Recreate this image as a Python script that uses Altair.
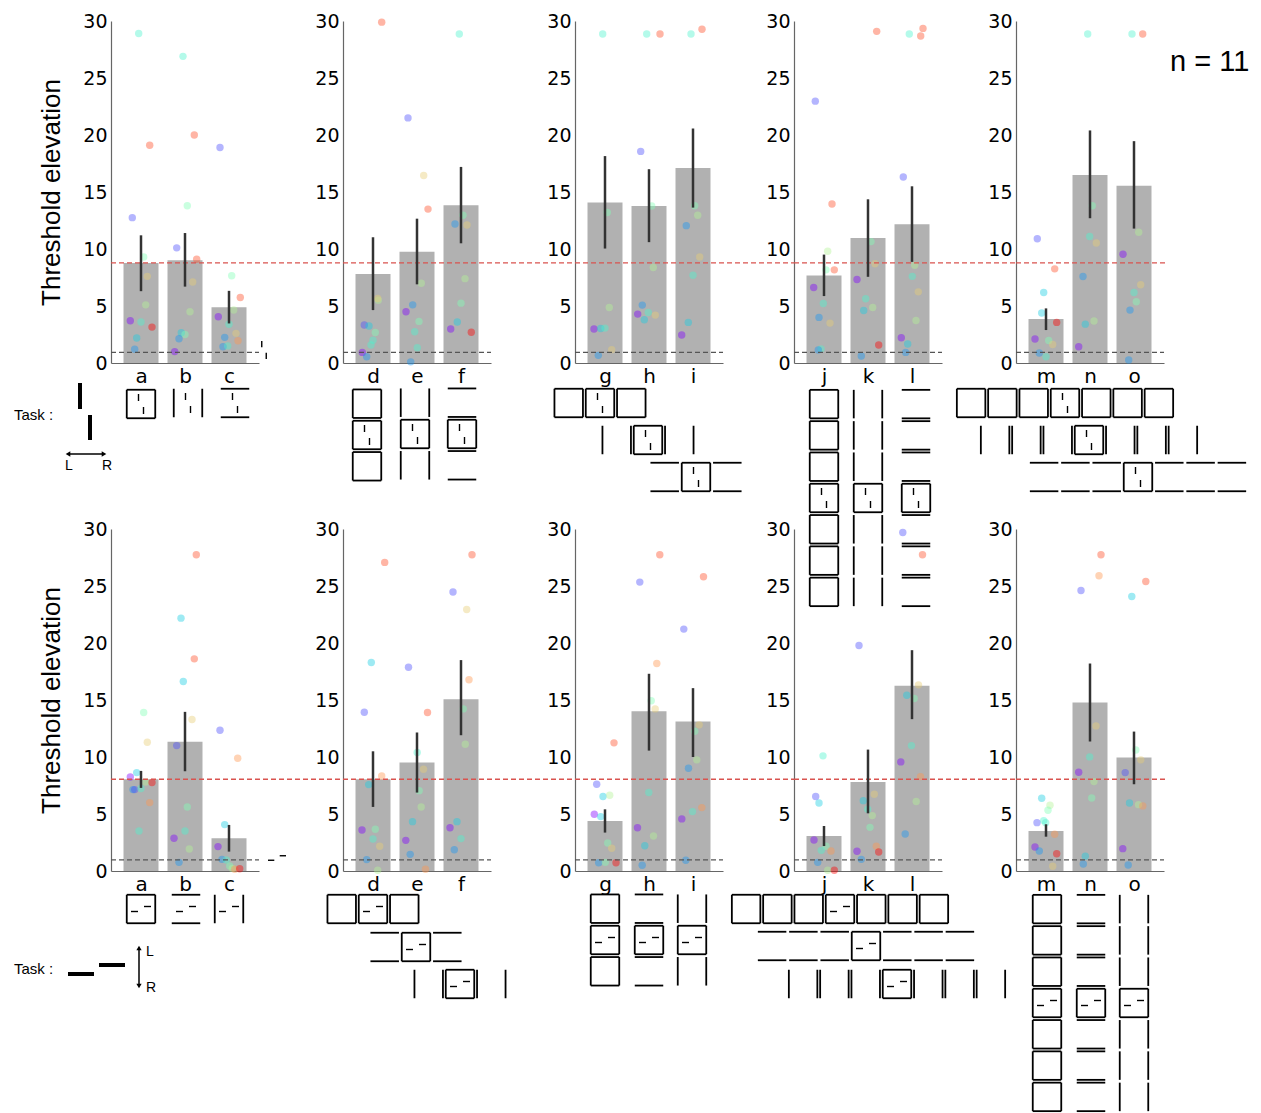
import altair as alt
import pandas as pd

# ---------------- data ----------------
LABELS = list("abcdefghijklmno")
PALETTE = ["#8000ff", "#4c4ffc", "#1996f3", "#19cee3", "#4cf2ce", "#80ffb4",
           "#b3f296", "#e6ce74", "#ff964f", "#ff4f28", "#ff0000"]
CODES = list("PVBCTGYOSRX")

TOP_MEAN = [8.78, 9.02, 4.9, 7.8, 9.75, 13.83, 14.07, 13.77, 17.1, 7.67, 10.97, 12.17, 3.85, 16.5, 15.55]
TOP_LO = [6.3, 6.7, 3.47, 4.64, 6.9, 10.5, 10.04, 10.6, 13.63, 5.87, 7.56, 8.87, 2.89, 12.7, 11.79]
TOP_HI = [11.2, 11.4, 6.33, 11.03, 12.66, 17.2, 18.15, 17.0, 20.57, 9.51, 14.36, 15.5, 4.79, 20.4, 19.46]
TOP_RED = 8.78
TOP_BASE = 0.93

TOP_VALS = {
    "a": [28.9, 19.1, 12.75, 9.3, 7.6, 5.1, 3.7, 3.6, 3.15, 2.2, 1.2],
    "b": [26.9, 20.0, 13.8, 10.1, 9.1, 7.1, 4.5, 2.65, 2.5, 2.13, 1.0],
    "c": [18.9, 7.65, 5.75, 4.65, 4.05, 3.4, 2.6, 2.25, 1.95, 1.43, 1.5],
    "d": [29.9, 5.5, 5.66, 3.33, 3.24, 2.68, 2.0, 1.58, 0.93, 0.55],
    "e": [21.5, 16.45, 13.5, 7.0, 5.1, 4.5, 3.65, 2.74, 1.34, 0.1],
    "f": [28.86, 12.96, 12.2, 12.1, 7.4, 5.25, 3.6, 2.98, 2.7],
    "g": [28.86, 13.2, 4.87, 2.98, 3.03, 3.06, 1.17, 0.67],
    "h": [28.86, 28.86, 18.56, 13.77, 8.37, 5.08, 4.29, 4.43, 4.2, 3.8],
    "i": [28.86, 29.27, 13.8, 12.96, 12.05, 9.3, 7.7, 3.56, 2.45],
    "j": [22.97, 13.95, 9.8, 8.17, 8.17, 6.62, 5.22, 4.0, 3.5, 1.23, 1.14],
    "k": [29.09, 10.65, 8.7, 7.32, 5.63, 4.87, 4.61, 1.58, 0.61],
    "l": [28.86, 28.68, 29.35, 16.31, 8.58, 7.6, 6.24, 3.73, 2.22, 1.66, 0.93],
    "m": [10.9, 8.26, 6.19, 4.38, 3.56, 2.1, 1.98, 1.63, 0.88, 0.55],
    "n": [28.86, 13.8, 11.09, 10.53, 7.59, 3.68, 3.41, 1.43],
    "o": [28.86, 28.86, 11.47, 9.54, 6.86, 6.19, 5.37, 4.64, 0.26],
}
TOP_JIT = {
    "a": [-2.3, 8.7, -8.7, 2.7, 6.3, 4.7, -10.7, 0, 11, -4.3, -6.3],
    "b": [-2, 9.3, 2.3, -8.3, 11.7, 7.7, 5, -3.7, 0, -6, -10.3],
    "c": [-9, 2.7, 11.3, 4.7, -10.7, 0, 7, -4.3, 9, -6, -1.3],
    "d": [8.7, 5.3, 4.7, -8.7, -4, 2.3, 0, -2, -10.7, -6.3],
    "e": [-9, 6.7, 11, 4.3, -4.3, -11, 2, -2.3, 0.3, -6.3],
    "f": [-1.7, 2, -6, 6, 4, 0, -3.7, -10.3, 10.3],
    "g": [-2.3, 2.3, 4.3, -11, -4.3, 0, 6.7, -6.7],
    "h": [-2.3, 11, -8.3, 2.7, 4.3, -6.7, -11.3, -0.7, 6.3, -4.7],
    "i": [-2, 9, 1.7, 4.7, -6.7, 6.7, 0, -4.7, -11.3],
    "j": [-8.7, 8, 3.7, 2, 10.3, -10.3, -0.7, -5, 6, -3, -5.7],
    "k": [8.7, 3, 7, -11, -2.3, 4.7, -4.3, 10.7, -6.7],
    "l": [-2.7, 8.7, 11, -8.7, 2.7, 0.3, 6.3, 4, -10.7, -4.3, -6.3],
    "m": [-8.7, 8.7, -2.3, -4.3, 10.7, -11, 2.7, 6.7, -6.7, 0],
    "n": [-2.3, 2.3, -0.3, 6.3, -7, 4, -4.7, -11.3],
    "o": [-2, 8.7, 4.7, -11, 6.7, 0, 2.3, -4, -5.3],
}
TOP_COL = {
    "a": "TRVGOYPTXCB", "b": "TRGVROYCGBP", "c": "VGRYPTOBSBT",
    "d": "RYOVCGTTPB", "e": "VORYBPGTTB", "f": "TGBOYGCPX",
    "g": "TGYPCTOB", "h": "TRVGYBPTOC", "i": "TRGYBOTCP",
    "j": "VRYGRPTBOTB", "k": "RGOPTYCXB", "l": "TRRVYTOYPCB",
    "m": "VRCCXPGOBT", "n": "TGTOBYCP", "o": "TRYPOTGBB",
}

BOT_MEAN = [8.05, 11.33, 2.87, 8.05, 9.51, 15.07, 4.39, 14.02, 13.11, 3.07, 7.81, 16.24, 3.51, 14.78, 9.95]
BOT_LO = [7.29, 8.75, 1.7, 5.62, 6.88, 11.91, 3.37, 10.56, 10.0, 2.19, 5.06, 13.32, 3.01, 11.36, 7.61]
BOT_HI = [8.78, 13.96, 4.04, 10.5, 12.15, 18.5, 5.41, 17.3, 16.04, 3.95, 10.65, 19.37, 4.1, 18.2, 12.23]
BOT_RED = 8.05
BOT_BASE = 0.97

BOT_VALS = {
    "a": [13.9, 11.3, 8.63, 8.25, 7.8, 7.76, 7.14, 7.14, 7.23, 6.0, 3.51],
    "b": [27.74, 22.18, 18.61, 16.62, 13.29, 11.0, 5.62, 2.87, 3.51, 1.93, 0.76],
    "c": [12.35, 9.89, 4.07, 2.14, 1.02, 0.97, 0.44, 0.23, 0.15, 0.2],
    "d": [27.07, 18.29, 13.93, 8.34, 7.58, 3.6, 3.66, 2.81, 2.17, 1.0, 0.06],
    "e": [17.88, 13.9, 10.39, 8.93, 7.05, 5.62, 4.33, 2.69, 1.46, 0.15],
    "f": [27.74, 24.47, 22.94, 16.77, 14.22, 11.12, 4.33, 3.8, 2.84, 1.87],
    "g": [11.24, 7.61, 6.53, 6.64, 4.98, 4.77, 2.46, 1.99, 0.73, 0.76, 0.73],
    "h": [27.74, 25.34, 18.2, 14.93, 14.22, 6.88, 3.8, 3.07, 2.22, 0.5],
    "i": [25.81, 21.22, 12.82, 12.26, 9.75, 9.01, 5.56, 5.21, 4.57, 0.94],
    "j": [10.1, 6.53, 5.97, 2.72, 2.17, 1.81, 1.76, 0.76, 0.06, 0.06],
    "k": [19.78, 6.73, 6.17, 5.41, 4.86, 3.83, 2.17, 1.73, 1.67, 1.02],
    "l": [29.7, 27.74, 16.33, 15.42, 15.13, 11.0, 9.57, 8.28, 6.09, 3.25],
    "m": [6.38, 5.77, 5.33, 4.24, 4.42, 4.24, 3.22, 2.11, 1.76, 1.52, 0.41],
    "n": [27.74, 25.9, 24.61, 12.73, 10.01, 8.66, 7.84, 6.41, 1.29, 0.61],
    "o": [25.4, 24.08, 10.62, 9.75, 8.63, 5.97, 5.82, 5.71, 1.96, 0.53],
}
BOT_JIT = {
    "a": [2.7, 6.3, -4.3, -10.7, 4.7, 11, -8, -6.3, 0, 8.7, -2],
    "b": [11.3, -4, 9.3, -1.7, 7, -8.3, 2.3, -11, 0, 4.3, -6],
    "c": [-9, 8.7, -4.3, -11, -7, -2.7, 0.7, 3.3, 5.7, 10.7],
    "d": [11.7, -1.7, -8.7, 8.7, -4.3, -11, 2.3, 0, 6.7, -6.3, 4.7],
    "e": [-8.5, 10.5, 0.2, 6.5, 2.2, 4.2, -4.5, -11.2, -6.8, 8.5],
    "f": [11, -8, 5.7, 8, 2.3, 4.3, -4, -11, 0, -6.7],
    "g": [9, -8.3, -2, 4.7, -10.7, -4.3, 2.7, 6.7, -6.3, 0.3, 11],
    "h": [10.8, -9.2, 7.8, 2.2, 6.2, -0.2, -11.5, 4.5, -4.2, -6.8],
    "i": [10.5, -9.2, 6.2, 1.8, 3.8, -4.5, 8.8, -0.5, -11.2, -7.2],
    "j": [-1, -8.3, -5, -10, 2, -2.7, 7, -6.3, 3.7, 10.3],
    "k": [-9, 6.3, -4.7, -0.3, 4.3, 2, 8.3, -11, 10.7, -6.7],
    "l": [-9.2, 10.5, 6.5, -5.2, 2.2, -0.5, -11.2, 8.5, 4.2, -6.8],
    "m": [-4.3, 4, 2, -9, -2.3, -0.3, 8.7, -11, -6.7, 10.7, 6.7],
    "n": [11, 9, -9, 6, -0.3, -11.3, 4, 1.7, -4.7, -6.7],
    "o": [11.8, -2.2, 1.8, 6.8, -8.8, -4.5, 4.5, 8.8, -11.2, -5.8],
}
BOT_COL = {
    "a": "GOCPYXBVTST", "b": "RCRCOVGPTYB", "c": "VSCPBTGYSX",
    "d": "RCVSCPGTOBY", "e": "VRTOGYCPBS", "f": "RVOSGYCPTB",
    "g": "RVCYPCGOBGX", "h": "RVSGOTPYCB", "i": "RVOGYBSTPB",
    "j": "TVCPGTSBYX", "k": "VOCTYGSPXB", "l": "VROCGTPSYB",
    "m": "CYGVTTSPBXO", "n": "RSVOTPYGCB", "o": "RCGOVCYSPB",
}

# stimulus icon layouts: arrangement and flanker kind per condition
TOP_ICONS = {"a": ("one", "S"), "b": ("one", "V"), "c": ("one", "H"),
             "d": ("v3", "S"), "e": ("v3", "V"), "f": ("v3", "H"),
             "g": ("h3", "S"), "h": ("h3", "V"), "i": ("h3", "H"),
             "j": ("v7", "S"), "k": ("v7", "V"), "l": ("v7", "H"),
             "m": ("h7", "S"), "n": ("h7", "V"), "o": ("h7", "H")}
BOT_ICONS = {"a": ("one", "S"), "b": ("one", "H"), "c": ("one", "V"),
             "d": ("h3", "S"), "e": ("h3", "H"), "f": ("h3", "V"),
             "g": ("v3", "S"), "h": ("v3", "H"), "i": ("v3", "V"),
             "j": ("h7", "S"), "k": ("h7", "H"), "l": ("h7", "V"),
             "m": ("v7", "S"), "n": ("v7", "H"), "o": ("v7", "V")}

# ---------------- layout ----------------
W, H = 148, 342
STEP = 44.0
FIRST = 30.0
XDOM = [-FIRST / STEP, (W - FIRST) / STEP]
PXV = H / 30.0
PANEL_LEFT = [110, 342, 574, 793, 1015]
TOP_BASELINE = 365
BOT_BASELINE = 873
GAP = 20
CELL = 28.5
PITCH = 31.3
FONT = "Liberation Sans"
TICK_FONT = "DejaVu Sans"

# icon anchor (centre of target cell), page pixels
TOP_ANCHOR = {"a": (140, 406), "b": (187, 405), "c": (234, 405),
              "d": (366, 437), "e": (414, 436), "f": (461, 436),
              "g": (599, 405), "h": (647, 442), "i": (695, 479),
              "j": (823, 500), "k": (867, 500), "l": (915, 500),
              "m": (1064, 405), "n": (1088, 442), "o": (1137, 479)}
BOT_ANCHOR = {"a": (140, 911), "b": (185, 911), "c": (228, 911),
              "d": (372, 911), "e": (415, 949), "f": (459, 986),
              "g": (604, 942), "h": (648, 942), "i": (691, 942),
              "j": (839, 911), "k": (865, 948), "l": (896, 986),
              "m": (1046, 1005), "n": (1090, 1005), "o": (1133, 1005)}


def ux(px, left):
    return XDOM[0] + (px - left) / STEP


def vy(py, base):
    return (base - py) / PXV


def cell(cx, cy, kind):
    h = CELL / 2
    s = []
    if kind in ("S", "H"):
        s += [(cx - h, cy - h, cx + h, cy - h), (cx - h, cy + h, cx + h, cy + h)]
    if kind in ("S", "V"):
        s += [(cx - h, cy - h, cx - h, cy + h), (cx + h, cy - h, cx + h, cy + h)]
    return [seg + (1.8,) for seg in s]


def target(cx, cy, orient, scale=1.0):
    a, b, o = 10 * scale, 3 * scale, 2.5 * scale
    if orient == "vert":
        return [(cx - o, cy - a, cx - o, cy - b, 1.4), (cx + o, cy + b, cx + o, cy + a, 1.4)]
    return [(cx - a, cy + o, cx - b, cy + o, 1.4), (cx + b, cy - o, cx + a, cy - o, 1.4)]


def icon(ax, ay, arr, kind, orient):
    n = {"one": 1, "h3": 3, "v3": 3, "h7": 7, "v7": 7}[arr]
    segs = []
    for i in range(n):
        k = i - n // 2
        if arr[0] == "h":
            cx, cy = ax + k * PITCH, ay
        elif arr[0] == "v":
            cx, cy = ax, ay + k * PITCH
        else:
            cx, cy = ax, ay
        if arr == "one":
            segs += cell(cx, cy, kind)
        elif k == 0:
            segs += cell(cx, cy, "S")
        else:
            segs += cell(cx, cy, kind)
    segs += target(ax, ay, orient)
    return segs


def xenc(field, labels):
    return alt.X(field, scale=alt.Scale(domain=XDOM, nice=False, zero=False, padding=0),
                 axis=alt.Axis(values=[0, 1, 2], title=None,
                               labelExpr="%s[datum.value]" % str(labels)))


def yenc(field, title):
    ax = alt.Axis(values=[0, 5, 10, 15, 20, 25, 30], title=title) if title else \
        alt.Axis(values=[0, 5, 10, 15, 20, 25, 30], title=None)
    return alt.Y(field, scale=alt.Scale(domain=[0, 30], nice=False, zero=False, padding=0), axis=ax)


def panel(row, p):
    top = row == 0
    MEAN, LO, HI = (TOP_MEAN, TOP_LO, TOP_HI) if top else (BOT_MEAN, BOT_LO, BOT_HI)
    VALS, JIT, COL = (TOP_VALS, TOP_JIT, TOP_COL) if top else (BOT_VALS, BOT_JIT, BOT_COL)
    ICONS, ANCH = (TOP_ICONS, TOP_ANCHOR) if top else (BOT_ICONS, BOT_ANCHOR)
    red, base_v = (TOP_RED, TOP_BASE) if top else (BOT_RED, BOT_BASE)
    baseline = TOP_BASELINE if top else BOT_BASELINE
    orient = "vert" if top else "horz"
    left = PANEL_LEFT[p]
    labs = LABELS[3 * p:3 * p + 3]
    title = "Threshold elevation" if p == 0 else None

    X = lambda f: xenc(f, labs)
    Y = lambda f: yenc(f, title)

    bars = pd.DataFrame({"x": [0, 1, 2], "v": MEAN[3 * p:3 * p + 3],
                         "lo": LO[3 * p:3 * p + 3], "hi": HI[3 * p:3 * p + 3]})
    drows = []
    for i, lab in enumerate(labs):
        for v, j, c in zip(VALS[lab], JIT[lab], COL[lab]):
            drows.append({"x": i + j / STEP, "v": v, "c": c})
    dots = pd.DataFrame(drows)

    span_right = (PANEL_LEFT[p + 1] - left) if p < 4 else W + 2
    lines = pd.DataFrame({"x": [XDOM[0]], "x2": [XDOM[0] + span_right / STEP],
                          "v": [red]})
    blines = pd.DataFrame({"x": [XDOM[0]], "x2": [XDOM[1]], "v": [base_v]})

    segs = []
    for lab in labs:
        arr, kind = ICONS[lab]
        ax, ay = ANCH[lab]
        segs += icon(ax, ay, arr, kind, orient)
    extra_txt = []
    extra_pts = []
    if p == 0:
        if top:
            segs += target(263, 352, "vert", 0.9)
            segs += [(79, 385, 79, 411, 4), (89, 417, 89, 442, 4), (68, 456, 102, 456, 1.5)]
            extra_pts += [(67, 456, "triangle-left"), (103, 456, "triangle-right")]
            extra_txt += [(13, 417, "Task :", 15, "left"), (68, 468, "L", 14, "center"),
                          (106, 468, "R", 14, "center")]
        else:
            segs += target(276, 860, "horz", 0.9)
            segs += [(67, 976, 93, 976, 4), (98, 967, 124, 967, 4), (138, 951, 138, 987, 1.5)]
            extra_pts += [(138, 950, "triangle-up"), (138, 988, "triangle-down")]
            extra_txt += [(13, 971, "Task :", 15, "left"), (149, 954, "L", 14, "center"),
                          (150, 990, "R", 14, "center")]
    if p == 4 and top:
        extra_txt += [(1169, 64, "n = 11", 29, "left")]

    segdf = pd.DataFrame([{"x": ux(a, left), "v": vy(b, baseline), "x2": ux(c, left),
                           "v2": vy(d, baseline), "w": w} for a, b, c, d, w in segs])

    layers = [
        alt.Chart(bars).mark_bar(size=35, color="#b1b1b1").encode(x=X("x:Q"), y=Y("v:Q")),
        alt.Chart(dots).mark_circle(size=55, opacity=0.42).encode(
            x=X("x:Q"), y=Y("v:Q"),
            color=alt.Color("c:N", scale=alt.Scale(domain=CODES, range=PALETTE), legend=None)),
        alt.Chart(lines).mark_rule(color="#d9534f", strokeDash=[5, 3], strokeWidth=1.3).encode(
            x=X("x:Q"), x2="x2:Q", y=Y("v:Q")),
        alt.Chart(blines).mark_rule(color="#555555", strokeDash=[5, 3], strokeWidth=1.3).encode(
            x=X("x:Q"), x2="x2:Q", y=Y("v:Q")),
        alt.Chart(bars).mark_rule(color="#333333", strokeWidth=2.5).encode(
            x=X("x:Q"), y=Y("lo:Q"), y2="hi:Q"),
        alt.Chart(segdf).mark_rule(color="black").encode(
            x=X("x:Q"), x2="x2:Q", y=Y("v:Q"), y2="v2:Q",
            strokeWidth=alt.StrokeWidth("w:Q", scale=None)),
    ]
    if extra_pts:
        ptdf = pd.DataFrame([{"x": ux(a, left), "v": vy(b, baseline), "s": s} for a, b, s in extra_pts])
        layers.append(alt.Chart(ptdf).mark_point(filled=True, size=28, color="black", opacity=1).encode(
            x=X("x:Q"), y=Y("v:Q"), shape=alt.Shape("s:N", scale=None)))
    for align in ("left", "center"):
        tt = [t for t in extra_txt if t[4] == align]
        if tt:
            tdf = pd.DataFrame([{"x": ux(a, left), "v": vy(b, baseline), "t": s, "fs": fs}
                                for a, b, s, fs, _ in tt])
            layers.append(alt.Chart(tdf).mark_text(align=align, baseline="middle", font=FONT,
                                                   color="black").encode(
                x=X("x:Q"), y=Y("v:Q"), text="t:N", size=alt.Size("fs:Q", scale=None)))
    return alt.layer(*layers).properties(width=W, height=H)


def spacer(width):
    return alt.Chart(pd.DataFrame({"x": [0], "v": [0]})).mark_point(opacity=0).encode(
        x=alt.X("x:Q", axis=None), y=alt.Y("v:Q", axis=None)).properties(width=width, height=H)


cells = []
for r in range(2):
    for p in range(5):
        cells.append(panel(r, p))
        if p < 4:
            cells.append(spacer(PANEL_LEFT[p + 1] - PANEL_LEFT[p] - W - 2 * GAP))

chart = alt.ConcatChart(
    concat=cells, columns=9, bounds="flush",
    spacing={"row": BOT_BASELINE - H - TOP_BASELINE, "column": GAP},
).properties(
    padding={"left": 13, "top": 12, "right": 5, "bottom": 2},
    background="white",
).configure_view(stroke=None).configure_axis(
    grid=False, ticks=False, domainColor="#666666", domainWidth=1.2,
    labelFont=TICK_FONT, labelFontSize=19, labelColor="black", labelPadding=4,
    titleFont=FONT, titleFontSize=26, titleFontWeight="normal", titleColor="black",
    titlePadding=18,
).configure_axisX(labelPadding=3, labelFontSize=20)

chart.save("out.html", embed_options={"renderer": "svg", "actions": False})
